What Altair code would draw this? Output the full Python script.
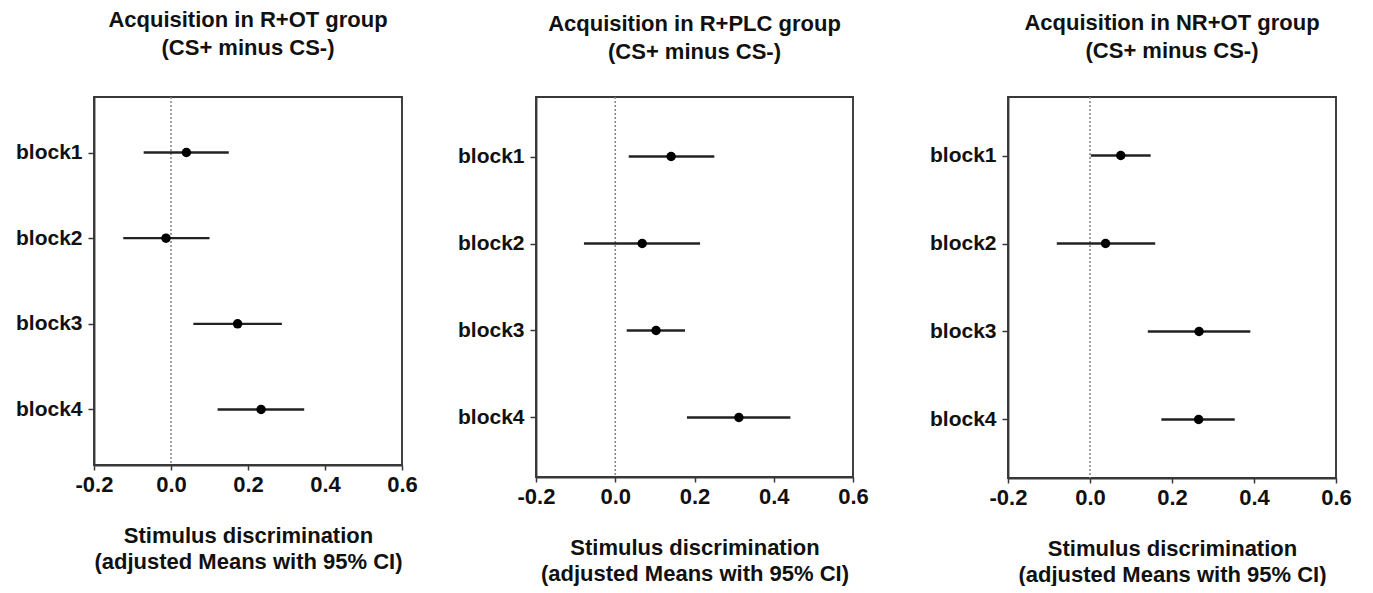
import altair as alt
import pandas as pd

blocks = ["block1", "block2", "block3", "block4"]

titles = [
    ["Acquisition in R+OT group", "(CS+ minus CS-)"],
    ["Acquisition in R+PLC group", "(CS+ minus CS-)"],
    ["Acquisition in NR+OT group", "(CS+ minus CS-)"],
]

rot_mean = [0.040, -0.013, 0.173, 0.234]
rot_lo = [-0.071, -0.124, 0.058, 0.121]
rot_hi = [0.150, 0.100, 0.288, 0.346]

rplc_mean = [0.141, 0.068, 0.103, 0.312]
rplc_lo = [0.034, -0.079, 0.029, 0.181]
rplc_hi = [0.250, 0.214, 0.176, 0.442]

nrot_mean = [0.075, 0.038, 0.266, 0.265]
nrot_lo = [0.002, -0.081, 0.141, 0.174]
nrot_hi = [0.148, 0.159, 0.391, 0.353]

x_ticks = [-0.2, 0.0, 0.2, 0.4, 0.6]
x_title = ["Stimulus discrimination", "(adjusted Means with 95% CI)"]

FONT = "Liberation Sans"


def panel(title, mean, lo, hi, width, height, pad, title_offset, y_extent):
    df = pd.DataFrame({"block": blocks, "mean": mean, "lo": lo, "hi": hi})
    xs = alt.Scale(domain=[-0.2, 0.6], nice=False, zero=False)
    xa = alt.Axis(
        title=x_title, values=x_ticks, labelFlush=False,
        labelExpr="(datum.value < 0 ? '-' : '') + format(abs(datum.value), '.1f')",
        grid=False, tickSize=5, labelPadding=4, titlePadding=30,
    )
    ys = alt.Scale(type="point", domain=blocks, padding=pad)
    ya = alt.Axis(title=None, grid=False, tickSize=6, labelPadding=6,
                  minExtent=y_extent)
    zero = alt.Chart(pd.DataFrame({"z": [0.0]})).mark_rule(
        color="#8a8a8a", strokeDash=[2, 2], strokeWidth=1.6
    ).encode(x=alt.X("z:Q", scale=xs, axis=xa))
    err = alt.Chart(df).mark_rule(color="#222222", strokeWidth=2.4).encode(
        x=alt.X("lo:Q", scale=xs, axis=xa),
        x2="hi:Q",
        y=alt.Y("block:N", scale=ys, axis=ya),
    )
    pts = alt.Chart(df).mark_point(
        filled=True, color="black", size=90, opacity=1
    ).encode(
        x=alt.X("mean:Q", scale=xs, axis=xa),
        y=alt.Y("block:N", scale=ys, axis=ya),
    )
    return alt.layer(zero, err, pts).properties(
        width=width, height=height,
        title=alt.TitleParams(text=title, fontSize=22, font=FONT, fontWeight="bold",
                              lineHeight=28, offset=title_offset, anchor="middle",
                              color="#111111"),
    )


p1 = panel(titles[0], rot_mean, rot_lo, rot_hi, 308, 368, 0.648, 36, 80)
p2 = panel(titles[1], rplc_mean, rplc_lo, rplc_hi, 317, 380, 0.684, 32, 96)
p3 = panel(titles[2], nrot_mean, nrot_lo, nrot_hi, 328, 381, 0.665, 33, 117)

chart = alt.hconcat(p1, p2, p3, spacing=20).properties(
    padding={"left": 13, "top": 8, "right": 0, "bottom": 0},
    background="white",
).configure_view(
    stroke="#383838", strokeWidth=1.9
).configure_axis(
    labelFont=FONT, titleFont=FONT, labelFontSize=22, titleFontSize=22,
    labelFontWeight="bold", titleFontWeight="bold", labelColor="#111111",
    titleColor="#111111", domainColor="#383838", domainWidth=1.9,
    tickColor="#383838", tickWidth=1.5, titleLineHeight=26,
).configure_axisY(
    labelFontSize=21
)

chart.save("out.html", embed_options={"renderer": "svg", "actions": False})
